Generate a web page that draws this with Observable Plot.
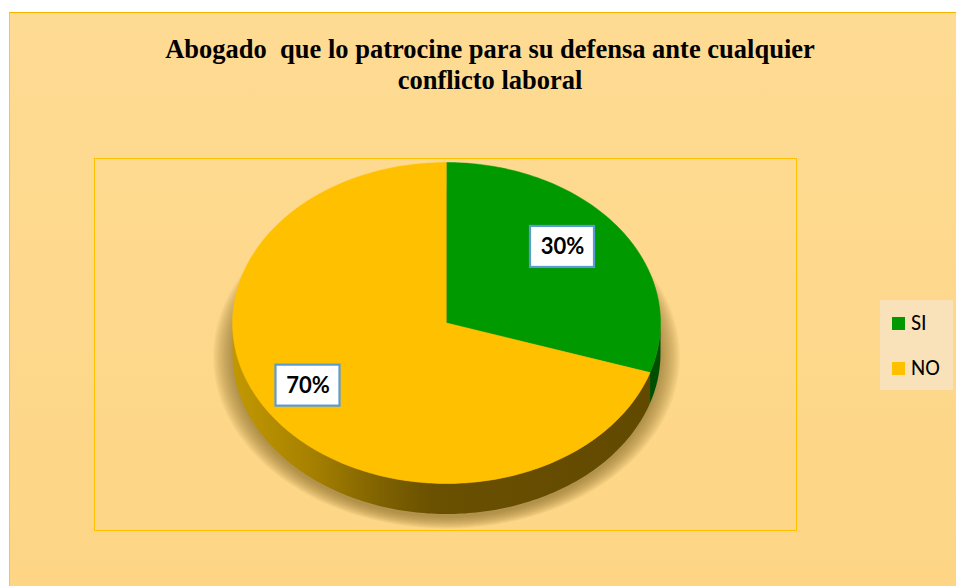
<!DOCTYPE html>
<html>
<head>
<meta charset="utf-8">
<script src="https://cdn.jsdelivr.net/npm/d3@7"></script>
<script src="https://cdn.jsdelivr.net/npm/@observablehq/plot@0.6"></script>
<style>
  html, body { margin: 0; padding: 0; background: #ffffff; width: 956px; height: 586px; overflow: hidden; }
  #chart { position: absolute; left: 9px; top: 12px; width: 960px; height: 590px;
           background: linear-gradient(180deg, #fedb93 0%, #fdd585 100%);
           border-top: 1.5px solid #f3b500; border-left: 1px solid #f6c24a; }
  #title { position: absolute; left: 9px; top: 34px; width: 962px; text-align: center;
           font-family: "Liberation Serif", "Times New Roman", serif; font-weight: bold;
           font-size: 26.5px; line-height: 31px; color: #000; white-space: pre; }
  #plotbox { position: absolute; left: 94px; top: 158px; width: 701px; height: 371px;
             border: 1.5px solid #ffc000; }
  #plot { position: absolute; left: 94px; top: 158px; }
  #legend { position: absolute; left: 880px; top: 300px; width: 73px; height: 90px; background: #f9e2ba; }
  .li { position: absolute; left: 12px; font-family: Carlito, Lato, "Open Sans", sans-serif; color: #000; }
  .sw { position: absolute; left: 0; top: 5px; width: 13px; height: 13px; }
  .lt { position: absolute; left: 19px; top: -1px; line-height: 24px; font-size: 22px; white-space: nowrap; }
</style>
</head>
<body>
<div id="chart"></div>
<div id="title">Abogado  que lo patrocine para su defensa ante cualquier
conflicto laboral</div>
<div id="plotbox"></div>
<div id="plot"></div>
<div id="legend"></div>
<script>
// ---- data ----
const categories = ["SI", "NO"];
const values = [30, 70];
const labels = ["30%", "70%"];
const topColors = ["#009900", "#ffc000"];
const sideColors = ["#004f00", "url(#sideGrad)"];

// ---- geometry (unit pie, y up) ----
const depth = 0.19;
const pie = d3.pie().sort(null).value(d => d)(values);
const TAU = Math.PI * 2;
const pt = (a, dy = 0) => [Math.sin(a), Math.cos(a) - dy];

// top faces
const topPts = [];
pie.forEach((s, i) => {
  const n = Math.max(8, Math.ceil((s.endAngle - s.startAngle) / (Math.PI / 180)));
  topPts.push({k: "t" + i, x: 0, y: 0});
  for (let j = 0; j <= n; j++) {
    const a = s.startAngle + (s.endAngle - s.startAngle) * j / n;
    const [x, y] = pt(a);
    topPts.push({k: "t" + i, x, y});
  }
});

// side wall (visible front half: angles between 90° and 270°)
const sideMarks = [];
pie.forEach((s, i) => {
  const a0 = Math.max(s.startAngle, Math.PI / 2);
  const a1 = Math.min(s.endAngle, 3 * Math.PI / 2);
  if (a1 <= a0) return;
  const n = Math.max(4, Math.ceil((a1 - a0) / (Math.PI / 180)));
  const pts = [];
  for (let j = 0; j <= n; j++) { const [x, y] = pt(a0 + (a1 - a0) * j / n); pts.push({x, y}); }
  for (let j = n; j >= 0; j--) { const [x, y] = pt(a0 + (a1 - a0) * j / n, depth); pts.push({x, y}); }
  sideMarks.push(Plot.line(pts, {x: "x", y: "y", fill: sideColors[i], stroke: "none", curve: "linear"}));
});

// soft shadow under the pie: stacked translucent ellipses
const shadowPts = [];
const layers = 12;
for (let k = 0; k < layers; k++) {
  const t = k / (layers - 1);
  const rx = 1.09 - 0.09 * t, ry = 1.07 - 0.07 * t;
  for (let j = 0; j <= 120; j++) {
    const a = TAU * j / 120;
    shadowPts.push({k, x: rx * Math.sin(a), y: ry * Math.cos(a) - depth - 0.02});
  }
}

// labels
const labelR = [0.67, 0.8];
const labelData = pie.map((s, i) => {
  const m = (s.startAngle + s.endAngle) / 2;
  return {x: labelR[i] * Math.sin(m), y: labelR[i] * Math.cos(m) + 0.08, text: labels[i]};
});
const hw = 32 / 214, hh = 20.5 / 160.5;

const W = 703, H = 373;
const plot = Plot.plot({
  width: W, height: H,
  margin: 0,
  style: {background: "transparent", overflow: "visible"},
  x: {domain: [-352 / 214, (W - 352) / 214], axis: null},
  y: {domain: [-(H - 164.5) / 160.5, 164.5 / 160.5], axis: null},
  marks: [
    Plot.line(shadowPts, {x: "x", y: "y", z: "k", fill: "#8a6a22", fillOpacity: 0.075, stroke: "none", curve: "linear"}),
    ...sideMarks,
    ...pie.map((s, i) => Plot.line(topPts.filter(d => d.k === "t" + i), {x: "x", y: "y", fill: topColors[i], stroke: topColors[i], strokeWidth: 0.5, curve: "linear"})),
    Plot.rect(labelData, {x1: d => d.x - hw, x2: d => d.x + hw, y1: d => d.y - hh, y2: d => d.y + hh, fill: "#ffffff", stroke: "#5b9bd5", strokeWidth: 2.2}),
    Plot.text(labelData, {x: "x", y: "y", text: "text", fill: "#000", fontSize: 22, fontWeight: "bold", fontFamily: "Lato, 'Open Sans', sans-serif"})
  ]
});
document.getElementById("plot").appendChild(plot);

// gradient for the side wall
const svg = d3.select(plot);
const defs = svg.insert("defs", ":first-child");
const g = defs.append("linearGradient").attr("id", "sideGrad").attr("x1", "0").attr("x2", "1").attr("y1", "0").attr("y2", "0");
[[0, "#c29800"], [0.18, "#a88200"], [0.36, "#7e6100"], [0.48, "#6a5000"], [1, "#614900"]]
  .forEach(([o, c]) => g.append("stop").attr("offset", o).attr("stop-color", c));

// legend
const legend = document.getElementById("legend");
const tops = [12, 57];
categories.forEach((c, i) => {
  const row = document.createElement("div");
  row.className = "li";
  row.style.top = tops[i] + "px";
  row.innerHTML = `<div class="sw" style="background:${topColors[i]}"></div><div class="lt">${c}</div>`;
  legend.appendChild(row);
});
</script>
</body>
</html>
